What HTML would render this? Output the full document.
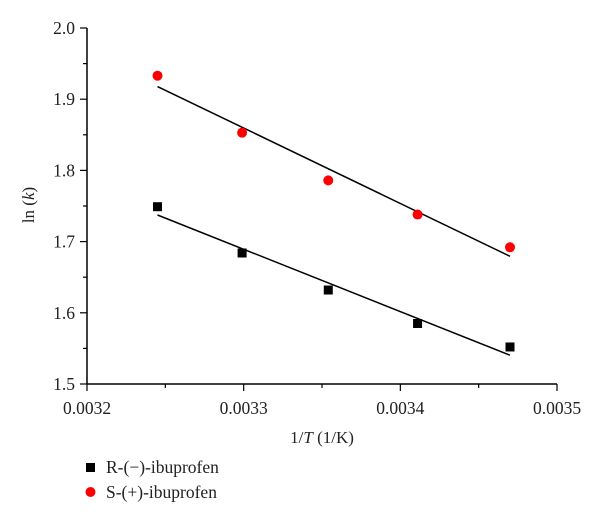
<!DOCTYPE html>
<html><head><meta charset="utf-8"><style>
html,body{margin:0;padding:0;background:#fff;}
svg{display:block;font-family:"Liberation Serif",serif;}
</style></head><body>
<svg id="chart" width="600" height="525" viewBox="0 0 600 525"></svg>
<script>
const xValues = [0.003245, 0.003299, 0.003354, 0.003411, 0.003470];
const rValues = [1.749, 1.684, 1.632, 1.585, 1.552];
const sValues = [1.933, 1.853, 1.786, 1.738, 1.692];
const xTicks = [0.0032, 0.0033, 0.0034, 0.0035];
const xTickLabels = ["0.0032", "0.0033", "0.0034", "0.0035"];
const yTicks = [1.5, 1.6, 1.7, 1.8, 1.9, 2.0];
const yTickLabels = ["1.5", "1.6", "1.7", "1.8", "1.9", "2.0"];

const X0 = 87, X1 = 557, Y0 = 384, Y1 = 28;
const xMin = 0.0032, xMax = 0.0035, yMin = 1.5, yMax = 2.0;
const sx = v => X0 + (v - xMin) / (xMax - xMin) * (X1 - X0);
const sy = v => Y0 - (v - yMin) / (yMax - yMin) * (Y0 - Y1);
const svg = document.getElementById('chart');
const NS = 'http://www.w3.org/2000/svg';
function mk(tag, attrs, parent) {
  const e = document.createElementNS(NS, tag);
  for (const k in attrs) e.setAttribute(k, attrs[k]);
  (parent || svg).appendChild(e);
  return e;
}
let e;
e = mk('line', {x1: X0, y1: Y0, x2: X1, y2: Y0, stroke: '#000', 'stroke-width': 1.5});


e = mk('line', {x1: X0, y1: Y0, x2: X0, y2: Y1, stroke: '#000', 'stroke-width': 1.5});


for (let i = 0; i < xTicks.length; i++) {
  const x = sx(xTicks[i]);
  e = mk('line', {x1: x, y1: Y0, x2: x, y2: Y0 + 7, stroke: '#000', 'stroke-width': 1.2});
  
  
  if (i < xTicks.length - 1) {
    const xm = sx((xTicks[i] + xTicks[i + 1]) / 2);
    e = mk('line', {x1: xm, y1: Y0, x2: xm, y2: Y0 + 4, stroke: '#000', 'stroke-width': 1.2});
    
    
  }
  e = mk('text', {x: x, y: Y0 + 30, 'text-anchor': 'middle', 'font-size': 17.5, fill: '#222'});
  e.textContent = xTickLabels[i];
  
  
}
for (let i = 0; i < yTicks.length; i++) {
  const y = sy(yTicks[i]);
  e = mk('line', {x1: X0 - 7, y1: y, x2: X0, y2: y, stroke: '#000', 'stroke-width': 1.2});
  
  
  if (i < yTicks.length - 1) {
    const ym = sy((yTicks[i] + yTicks[i + 1]) / 2);
    e = mk('line', {x1: X0 - 4, y1: ym, x2: X0, y2: ym, stroke: '#000', 'stroke-width': 1.2});
    
    
  }
  e = mk('text', {x: X0 - 12, y: y + 6, 'text-anchor': 'end', 'font-size': 17.5, fill: '#222'});
  e.textContent = yTickLabels[i];
  
  
}
e = mk('text', {x: 322, y: 443, 'text-anchor': 'middle', 'font-size': 17, fill: '#222'});
e.innerHTML = '1/<tspan font-style="italic">T</tspan> (1/K)';


e = mk('text', {x: 0, y: 0, 'text-anchor': 'middle', 'font-size': 17, fill: '#222', transform: 'translate(34,205) rotate(-90)'});
e.innerHTML = 'ln (<tspan font-style="italic">k</tspan>)';


function fit(xs, ys) {
  const n = xs.length;
  const mx = xs.reduce((a, b) => a + b, 0) / n, my = ys.reduce((a, b) => a + b, 0) / n;
  let num = 0, den = 0;
  for (let i = 0; i < n; i++) { num += (xs[i] - mx) * (ys[i] - my); den += (xs[i] - mx) ** 2; }
  const m = num / den; return [m, my - m * mx];
}
function drawFit(ys, name) {
  const [m, b] = fit(xValues, ys);
  const xa = xValues[0], xb = xValues[xValues.length - 1];
  const l = mk('line', {x1: sx(xa), y1: sy(m * xa + b), x2: sx(xb), y2: sy(m * xb + b), stroke: '#000', 'stroke-width': 1.5});
  
  
}
drawFit(sValues, 's-fit-line');
drawFit(rValues, 'r-fit-line');
for (let i = 0; i < xValues.length; i++) {
  const r = mk('rect', {x: sx(xValues[i]) - 4.5, y: sy(rValues[i]) - 4.5, width: 9, height: 9, fill: '#000'});
  
  
  const c = mk('circle', {cx: sx(xValues[i]), cy: sy(sValues[i]), r: 5, fill: '#f00'});
  
  
}
e = mk('rect', {x: 86, y: 463, width: 9, height: 9, fill: '#000'});


e = mk('text', {x: 106, y: 473, 'font-size': 17.5, fill: '#222'});
e.textContent = 'R-(\u2212)-ibuprofen';


e = mk('circle', {cx: 90.5, cy: 492, r: 5, fill: '#f00'});


e = mk('text', {x: 106, y: 498, 'font-size': 17.5, fill: '#222'});
e.textContent = 'S-(+)-ibuprofen';


</script>
</body></html>
